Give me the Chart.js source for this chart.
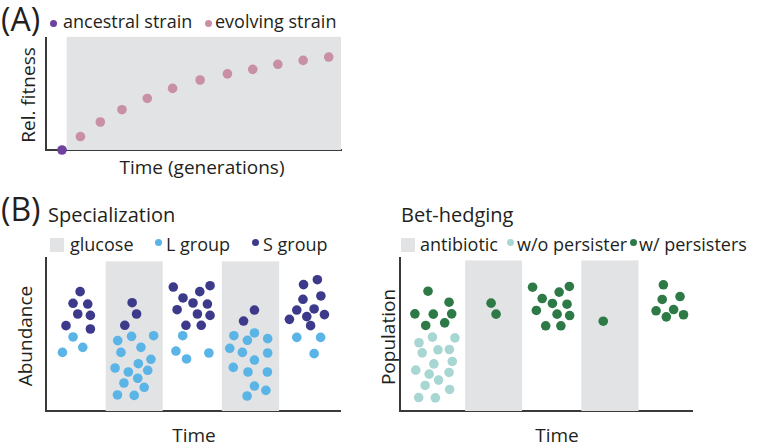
<!DOCTYPE html>
<html>
<head>
<meta charset="utf-8">
<script src="https://cdn.jsdelivr.net/npm/chart.js@4.4.1/dist/chart.umd.min.js"></script>
<style>
  body { margin: 0; background: #fff; }
  #page { position: relative; width: 757px; height: 448px; overflow: hidden;
          font-family: "Open Sans", "Noto Sans", sans-serif; color: #231f20; }
  canvas { position: absolute; }
  .t { position: absolute; white-space: nowrap; line-height: 1; }
  .rot { transform: translate(-50%, -50%) rotate(-90deg); }
  .ctr { transform: translate(-50%, -50%); }
  .dot { position: absolute; width: 7px; height: 7px; border-radius: 50%; }
  .sq { position: absolute; width: 14px; height: 14px; background: #e2e3e5; }
</style>
</head>
<body>
<div id="page">
  <!-- panel A -->
  <div class="t" style="left:1px;top:3px;font-size:32px">(A)</div>
  <div class="dot" style="left:50px;top:20px;background:#6f42a0"></div>
  <div class="t" style="left:63px;top:12px;font-size:18px">ancestral strain</div>
  <div class="dot" style="left:205px;top:20px;background:#c98fa5"></div>
  <div class="t" style="left:215px;top:12px;font-size:18px">evolving strain</div>
  <div class="t rot" style="left:28px;top:95px;font-size:19px">Rel. fitness</div>
  <div class="t ctr" style="left:202px;top:167px;font-size:19px">Time (generations)</div>
  <canvas id="chartA" width="315" height="132" style="left:36px;top:28px"></canvas>

  <!-- panel B -->
  <div class="t" style="left:1px;top:193px;font-size:32px">(B)</div>
  <div class="t" style="left:48px;top:205px;font-size:20px">Specialization</div>
  <div class="sq" style="left:50px;top:238px"></div>
  <div class="t" style="left:70px;top:235px;font-size:18px">glucose</div>
  <div class="dot" style="left:155px;top:239px;background:#5ab4e6"></div>
  <div class="t" style="left:166px;top:235px;font-size:18px">L group</div>
  <div class="dot" style="left:252px;top:239px;background:#3d3a8c"></div>
  <div class="t" style="left:263px;top:235px;font-size:18px">S group</div>
  <div class="t rot" style="left:25px;top:336px;font-size:19px">Abundance</div>
  <div class="t ctr" style="left:194px;top:435px;font-size:19px">Time</div>
  <canvas id="chartB1" width="314" height="173" style="left:36px;top:248px"></canvas>

  <div class="t" style="left:401px;top:205px;font-size:20px">Bet-hedging</div>
  <div class="sq" style="left:401px;top:238px"></div>
  <div class="t" style="left:420px;top:235px;font-size:18px">antibiotic</div>
  <div class="dot" style="left:507px;top:239px;background:#a8d7d3"></div>
  <div class="t" style="left:517px;top:235px;font-size:18px">w/o persister</div>
  <div class="dot" style="left:630px;top:239px;background:#2e7a47"></div>
  <div class="t" style="left:639px;top:235px;font-size:18px">w/ persisters</div>
  <div class="t rot" style="left:388px;top:337px;font-size:19px">Population</div>
  <div class="t ctr" style="left:557px;top:435px;font-size:19px">Time</div>
  <canvas id="chartB2" width="312" height="173" style="left:390px;top:248px"></canvas>
</div>

<script>
/* ── (A) fitness over time ── */
const ancestralTime = [0.65];
const ancestralFitness = [0];
const evolvingTime = [1.40, 2.21, 3.09, 4.12, 5.15, 6.27, 7.38, 8.41, 9.43, 10.46, 11.50];
const evolvingFitness = [0.12, 0.25, 0.36, 0.46, 0.55, 0.625, 0.68, 0.72, 0.765, 0.80, 0.83];
const evolveWindow = [[0.84, 12]];

/* ── (B) specialization ── */
const glucoseWindows = [[2.03, 3.97], [5.98, 7.93]];
const sGroupTime = [1.16, 0.92, 1.42, 1.08, 1.51, 0.68, 1.51,
  2.93, 3.08, 2.68,
  4.33, 5.58, 5.23, 4.66, 5.00, 5.49, 4.46, 5.15, 5.58, 4.76, 5.28,
  7.09, 6.72,
  9.23, 8.76, 9.35, 8.74, 8.53, 9.12, 9.47, 8.87, 8.28, 9.00];
const sGroupAbund = [7.80, 7.04, 6.99, 6.34, 6.25, 5.58, 5.36,
  7.08, 6.34, 5.60,
  8.10, 8.19, 7.80, 7.39, 7.06, 6.99, 6.62, 6.34, 6.25, 5.60, 5.60,
  6.60, 5.88,
  8.58, 8.26, 7.52, 7.30, 6.60, 6.67, 6.30, 6.17, 5.99, 5.58];
const lGroupTime = [0.92, 1.25, 0.56,
  2.91, 3.66, 2.44, 3.23, 2.55, 3.57, 3.14, 2.35, 3.46, 2.80, 3.12, 2.65, 3.34, 2.43, 3.00,
  4.65, 4.42, 5.54, 4.78,
  6.39, 7.09, 6.85, 7.54, 6.25, 6.68, 7.54, 7.09, 6.37, 6.87, 7.53, 7.09, 7.48, 6.84,
  8.53, 9.34, 9.12];
const lGroupAbund = [4.84, 4.16, 3.83,
  4.88, 4.92, 4.60, 4.16, 3.83, 3.38, 3.09, 2.81, 2.66, 2.55, 2.14, 1.83, 1.55, 1.05, 1.02,
  4.92, 3.92, 3.79, 3.40,
  4.92, 5.10, 4.62, 4.73, 4.10, 3.83, 3.79, 3.33, 2.85, 2.55, 2.55, 1.63, 1.35, 0.98,
  4.81, 4.81, 3.75];

/* ── (B) bet-hedging ── */
const antibioticWindows = [[2.23, 4.18], [6.21, 8.17]];
const withPersTime = [0.96, 1.68, 0.51, 1.14, 1.77, 0.88, 1.53,
  3.12, 3.29,
  4.54, 5.80, 5.45, 4.87, 5.22, 5.72, 4.67, 5.38, 5.81, 4.99, 5.51,
  6.96,
  9.02, 9.59, 8.98, 9.37, 8.77, 9.71, 9.12];
const withPersPop = [7.83, 7.11, 6.35, 6.33, 6.35, 5.59, 5.76,
  7.05, 6.33,
  8.09, 8.14, 7.77, 7.35, 7.03, 6.98, 6.57, 6.33, 6.24, 5.57, 5.57,
  5.87,
  8.25, 7.48, 7.29, 6.63, 6.55, 6.29, 6.15];
const noPersTime = [1.11, 1.88, 0.65, 0.76, 1.30, 1.69, 1.79, 1.16, 0.54, 1.00, 1.68, 1.32, 0.86, 1.70, 0.64, 1.21];
const noPersPop = [4.83, 4.78, 4.46, 3.80, 4.00, 4.02, 3.24, 3.08, 2.67, 2.41, 2.52, 2.02, 1.67, 1.41, 0.88, 0.86];

function toPoints(xs, ys) {
  return xs.map((x, i) => ({ x: x, y: ys[i] }));
}

// shaded time windows, drawn through the chart scales
const bandsPlugin = {
  id: 'bands',
  beforeDatasetsDraw(chart, args, opts) {
    const { ctx, scales: { x, y } } = chart;
    ctx.save();
    ctx.fillStyle = opts.color || '#e2e3e5';
    (opts.ranges || []).forEach(r => {
      const x0 = x.getPixelForValue(r[0]);
      const x1 = x.getPixelForValue(r[1]);
      const y0 = y.getPixelForValue(opts.top);
      const y1 = y.getPixelForValue(y.min);
      ctx.fillRect(x0, y0, x1 - x0, y1 - y0);
    });
    ctx.restore();
  }
};

function axis(min, max) {
  return {
    type: 'linear', min: min, max: max,
    ticks: { display: false },
    grid: { display: false, drawTicks: false },
    border: { display: true, color: '#3a3a3a', width: 2 }
  };
}

function scatterSet(data, color) {
  return {
    data: data,
    backgroundColor: color,
    borderWidth: 0,
    pointRadius: 4.8,
    pointHoverRadius: 4.8,
    clip: false
  };
}

function makeChart(id, datasets, xMax, yMax, ranges, bandTop) {
  return new Chart(document.getElementById(id), {
    type: 'scatter',
    data: { datasets: datasets },
    options: {
      responsive: false,
      animation: false,
      layout: { padding: 10 },
      events: [],
      scales: { x: axis(0, xMax), y: axis(0, yMax) },
      plugins: {
        legend: { display: false },
        tooltip: { enabled: false },
        bands: { ranges: ranges, top: bandTop, color: '#e2e3e5' }
      }
    },
    plugins: [bandsPlugin]
  });
}

makeChart('chartA', [
  scatterSet(toPoints(evolvingTime, evolvingFitness), '#c98fa5'),
  scatterSet(toPoints(ancestralTime, ancestralFitness), '#6f42a0')
], 12, 1, evolveWindow, 1.01);

makeChart('chartB1', [
  scatterSet(toPoints(sGroupTime, sGroupAbund), '#3d3a8c'),
  scatterSet(toPoints(lGroupTime, lGroupAbund), '#5ab4e6')
], 10, 10, glucoseWindows, 9.78);

makeChart('chartB2', [
  scatterSet(toPoints(withPersTime, withPersPop), '#2e7a47'),
  scatterSet(toPoints(noPersTime, noPersPop), '#a8d7d3')
], 10, 10, antibioticWindows, 9.84);
</script>
</body>
</html>
